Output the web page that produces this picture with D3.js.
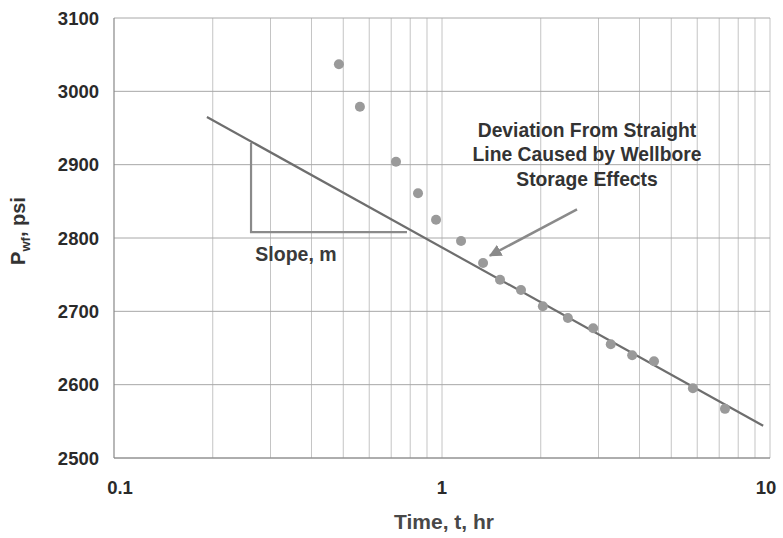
<!DOCTYPE html>
<html>
<head>
<meta charset="utf-8">
<script src="https://cdn.jsdelivr.net/npm/d3@7"></script>
<style>
  body { margin: 0; background: #fff; }
  svg text { font-family: "Liberation Sans", Arial, sans-serif; font-weight: bold; }
</style>
</head>
<body>
<div id="chart"></div>
<script>
// measured points (time hr, pressure psi)
const times = [0.485, 0.562, 0.724, 0.845, 0.959, 1.143, 1.334, 1.503, 1.741, 2.03,
               2.42, 2.89, 3.27, 3.80, 4.43, 5.82, 7.29];
const pressures = [3037, 2979, 2904, 2861, 2825, 2796, 2766, 2743, 2729, 2707,
                   2691, 2677, 2655, 2640, 2632, 2595, 2567];

// straight line fit end points
const lineT = [0.192, 9.53];
const lineP = [2965, 2544];

// slope triangle corners
const triT = [0.2617, 0.2617, 0.782];
const triP = [2930, 2808, 2808];

// arrow from label towards the points
const arrowT = [2.58, 1.40];
const arrowP = [2839, 2776];

const yTicks = [2500, 2600, 2700, 2800, 2900, 3000, 3100];
const xTicks = [0.1, 1, 10];
const noteLines = ["Deviation From Straight", "Line Caused by Wellbore", "Storage Effects"];

const W = 783, H = 538;
const margin = {left: 114, top: 18, right: 13, bottom: 80};
const pw = W - margin.left - margin.right;
const ph = H - margin.top - margin.bottom;

const svg = d3.select("#chart").append("svg")
    .attr("width", W)
    .attr("height", H);

const g = svg.append("g")
    .attr("transform", `translate(${margin.left},${margin.top})`);

const x = d3.scaleLog().domain([0.1, 10]).range([0, pw]);
const y = d3.scaleLinear().domain([2500, 3100]).range([ph, 0]);

// vertical grid (every minor log tick)
const minor = [];
for (let dec = 0.1; dec < 10; dec *= 10) {
    for (let k = 2; k <= 10; k++) minor.push(+(dec * k).toPrecision(3));
}
g.selectAll(".vgrid")
    .data(minor)
    .join("line")
    .attr("class", "vgrid")
    .attr("x1", d => x(d)).attr("x2", d => x(d))
    .attr("y1", 0).attr("y2", ph)
    .attr("stroke", "#c4c4c4")
    .attr("stroke-width", 1);

// horizontal grid
g.selectAll(".hgrid")
    .data(yTicks)
    .join("line")
    .attr("class", "hgrid")
    .attr("x1", 0).attr("x2", pw)
    .attr("y1", d => y(d)).attr("y2", d => y(d))
    .attr("stroke", "#a8a8a8")
    .attr("stroke-width", 1);

// axis lines
g.append("line")
    .attr("x1", 0).attr("x2", 0).attr("y1", 0).attr("y2", ph)
    .attr("stroke", "#888").attr("stroke-width", 1.2);
g.append("line")
    .attr("x1", 0).attr("x2", pw).attr("y1", ph).attr("y2", ph)
    .attr("stroke", "#888").attr("stroke-width", 1.2);

// y tick labels
g.selectAll(".ylab")
    .data(yTicks)
    .join("text")
    .attr("class", "ylab")
    .attr("x", -15)
    .attr("y", d => y(d))
    .attr("dy", "0.36em")
    .attr("text-anchor", "end")
    .attr("font-size", 18.5)
    .attr("fill", "#2a2a2a")
    .text(d => d);

// x tick labels
g.selectAll(".xlab")
    .data(xTicks)
    .join("text")
    .attr("class", "xlab")
    .attr("x", d => x(d) + (d === 0.1 ? 6 : (d === 10 ? -4 : 0)))
    .attr("y", ph + 36)
    .attr("text-anchor", "middle")
    .attr("font-size", 18.5)
    .attr("fill", "#2a2a2a")
    .text(d => d);

// axis titles
svg.append("text")
    .attr("x", 444)
    .attr("y", 529)
    .attr("text-anchor", "middle")
    .attr("font-size", 21)
    .attr("fill", "#484848")
    .text("Time, t, hr");

const yt = svg.append("text")
    .attr("transform", `translate(25,231) rotate(-90)`)
    .attr("text-anchor", "middle")
    .attr("font-size", 20)
    .attr("fill", "#333");
yt.append("tspan").text("P");
yt.append("tspan").attr("font-size", 13).attr("dy", 5).text("wf");
yt.append("tspan").attr("dy", -5).text(", psi");

// slope triangle
g.append("path")
    .attr("d", d3.line()(triT.map((t, i) => [x(t), y(triP[i])])))
    .attr("fill", "none")
    .attr("stroke", "#8a8a8a")
    .attr("stroke-width", 2.2);

// straight line
g.append("line")
    .attr("x1", x(lineT[0])).attr("y1", y(lineP[0]))
    .attr("x2", x(lineT[1])).attr("y2", y(lineP[1]))
    .attr("stroke", "#6e6e6e")
    .attr("stroke-width", 2.2);

// points
g.selectAll(".pt")
    .data(times.map((t, i) => ({t: t, p: pressures[i]})))
    .join("circle")
    .attr("class", "pt")
    .attr("cx", d => x(d.t))
    .attr("cy", d => y(d.p))
    .attr("r", 5)
    .attr("fill", "#9a9a9a");

// arrow
svg.append("defs").append("marker")
    .attr("id", "head")
    .attr("viewBox", "0 0 10 10")
    .attr("refX", 9).attr("refY", 5)
    .attr("markerWidth", 5).attr("markerHeight", 5)
    .attr("orient", "auto")
    .append("path")
    .attr("d", "M0,0 L10,5 L0,10 Z")
    .attr("fill", "#8a8a8a");

g.append("line")
    .attr("x1", x(arrowT[0])).attr("y1", y(arrowP[0]))
    .attr("x2", x(arrowT[1])).attr("y2", y(arrowP[1]))
    .attr("stroke", "#8a8a8a")
    .attr("stroke-width", 2.5)
    .attr("marker-end", "url(#head)");

// labels
svg.append("text")
    .attr("x", 296)
    .attr("y", 261)
    .attr("text-anchor", "middle")
    .attr("font-size", 19.5)
    .attr("fill", "#3a3a3a")
    .text("Slope, m");

svg.selectAll(".note")
    .data(noteLines)
    .join("text")
    .attr("class", "note")
    .attr("x", 587)
    .attr("y", (d, i) => 137 + i * 24.3)
    .attr("text-anchor", "middle")
    .attr("font-size", 19.3)
    .attr("fill", "#333")
    .text(d => d);
</script>
</body>
</html>
